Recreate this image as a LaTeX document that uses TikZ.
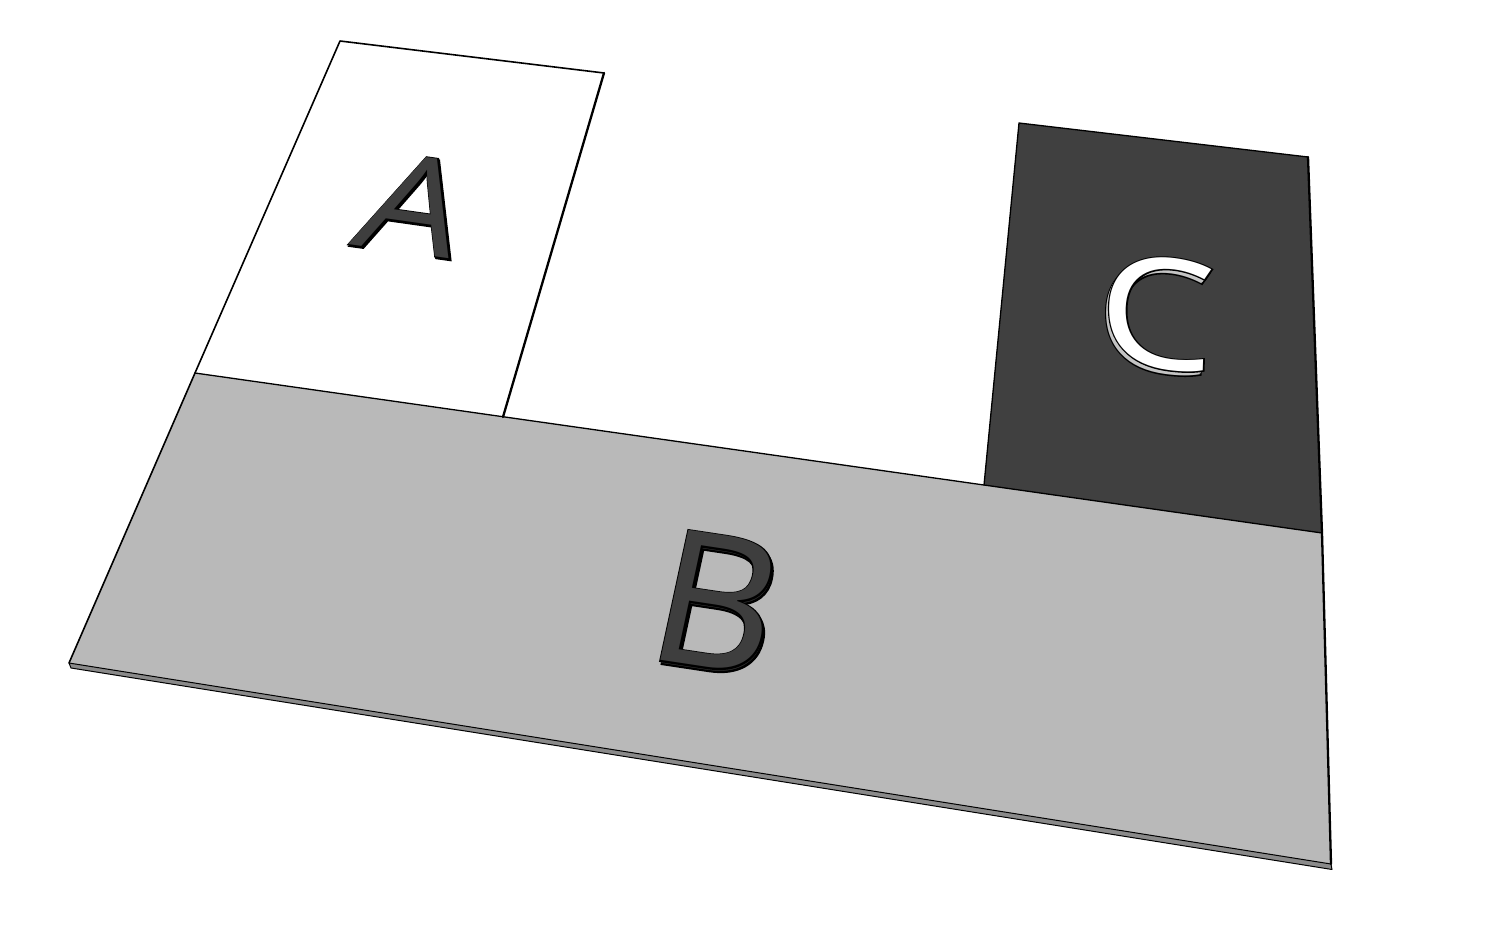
\documentclass[tikz,border=0pt]{standalone}
\usepackage{fontspec}
\newfontfamily\letterfont{Open Sans}
\newfontfamily\letteroutlinefont[FakeBold=1.6]{Open Sans}
\usetikzlibrary{calc}
\definecolor{bgray}{HTML}{B9B9B9}
\definecolor{cgray}{HTML}{404040}
\definecolor{letterdark}{HTML}{3E3E3E}
\definecolor{sidedark}{HTML}{2A2A2A}
\definecolor{cside}{HTML}{C4C4C4}
\definecolor{slabside}{HTML}{8A8A8A}
\newcommand\raisedglyph[6]{%
  \node[glyph,outlined,text=black] at (#5,#6) {#2};
  \foreach \t in {0,0.25,0.5,0.75,1}
    \node[glyph,text=#4] at (#5*\t,#6*\t) {#2};
  \node[glyph,outlined,text=black] at (0,0) {#2};
  \node[glyph,text=#3] (#1) at (0,0) {#2};
}
\begin{document}
\begin{tikzpicture}[x=1pt,y=-1pt,
  edge/.style={draw=black,line width=1.3pt,line join=round,line cap=round},
  heavyedge/.style={draw=black,line width=2.3pt,line join=round,line cap=round},
  glyph/.style={font=\letterfont\fontsize{100}{100}\selectfont,anchor=base,inner sep=0pt,outer sep=0pt,transform shape},
  outlined/.style={font=\letteroutlinefont\fontsize{100}{100}\selectfont}]
\useasboundingbox (0,0) rectangle (1500,928);
% corners of the slab regions
\coordinate (atl) at (340,41);
\coordinate (atr) at (604,73);
\coordinate (abr) at (503,417);
\coordinate (btl) at (195,373);
\coordinate (bbl) at (69,663);
\coordinate (bbr) at (1331,864);
\coordinate (btr) at (1322,533);
\coordinate (cbl) at (984,485);
\coordinate (ctl) at (1019,123);
\coordinate (ctr) at (1308,157);
\coordinate (bbl2) at (71,668);
\coordinate (bbr2) at (1332,869.5);
% faces
\fill[white] (atl) -- (atr) -- (abr) -- (btl) -- cycle;
\fill[bgray] (btl) -- (btr) -- (bbr) -- (bbl) -- cycle;
\fill[cgray] (ctl) -- (ctr) -- (btr) -- (cbl) -- cycle;
\filldraw[fill=slabside,draw=black,line width=1pt,line join=round] (bbl) -- (bbr) -- (bbr2) -- (bbl2) -- cycle;
% edges
\draw[edge] (btl) -- (btr);
\draw[edge] (cbl) -- (ctl) -- (ctr);
\draw[edge,line width=1.6pt] (bbl) -- (btl) -- (atl) -- (atr);
\draw[heavyedge] (atr) -- (abr);
\draw[heavyedge] (ctr) -- (btr) -- (bbr);
% letters
\begin{scope}[cm={1.587,-0.224,0.462,1.302,(399,251.5)}]
  \raisedglyph{A}{A}{letterdark}{sidedark}{0.9}{1.0}
\end{scope}
\begin{scope}[cm={1.87,-0.282,0.392,1.821,(703,667)}]
  \raisedglyph{B}{B}{letterdark}{sidedark}{1.1}{1.5}
\end{scope}
\begin{scope}[cm={1.86,-0.244,0.05,1.53,(1155,367)}]
  \raisedglyph{C}{C}{white}{cside}{-1.5}{2.9}
\end{scope}
\end{tikzpicture}
\end{document}
